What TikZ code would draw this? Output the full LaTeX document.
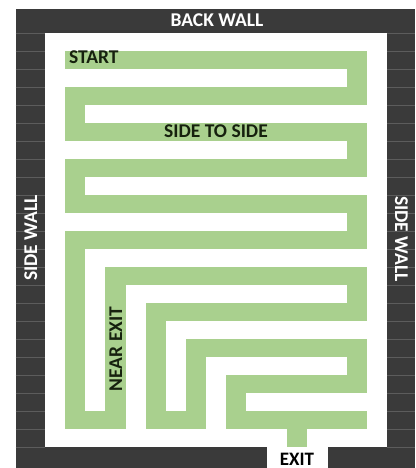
\documentclass[tikz,border=0pt]{standalone}
\usepackage{fontspec}
\setmainfont{Carlito}
\definecolor{wall}{HTML}{3A3A3A}
\definecolor{gridln}{HTML}{5C5C5C}
\definecolor{path}{HTML}{A9D08E}
\definecolor{pathtext}{HTML}{16210E}
\tikzset{
  wallfill/.style={fill=wall,draw=none},
  floor/.style={fill=white,draw=none},
  cellpath/.style={fill=path,draw=none},
  walltext/.style={text=white,font=\bfseries\fontsize{19.5}{19.5}\selectfont,inner sep=0pt},
  pathlabel/.style={text=pathtext,font=\bfseries\fontsize{19.5}{19.5}\selectfont,inner sep=0pt},
  exitlabel/.style={text=black,font=\bfseries\fontsize{19}{19}\selectfont,inner sep=0pt},
  gridline/.style={draw=gridln,line width=0.8pt}
}
\begin{document}
\begin{tikzpicture}[x=1pt,y=-1pt]
\useasboundingbox (0,0) rectangle (415,468);
\fill[white] (0,0) rectangle (415,468);
% walls
\path[wallfill] (15.5,9) rectangle (415,468);
% grid lines on side walls
\foreach \k in {0,...,23}{
  \draw[gridline] (15.5,{33+18*\k}) -- (45,{33+18*\k});
  \draw[gridline] (387,{33+18*\k}) -- (415,{33+18*\k});
}
% floor
\path[floor] (45,33) rectangle (387,447);
\path[floor] (267,446) rectangle (328,468);
% path cells
\begin{scope}[shift={(45,33)},x=20.125pt,y=-18pt]
\foreach \a/\b/\c/\d in {
 1/1/16/2, 15/2/16/3, 1/3/16/4, 1/4/2/5, 1/5/16/6, 15/6/16/7,
 1/7/16/8, 1/8/2/9, 1/9/16/10, 15/10/16/11, 1/11/16/12,
 1/12/2/22, 1/21/4/22, 3/13/4/22, 3/13/16/14, 15/14/16/15,
 5/15/16/16, 5/15/6/22, 5/21/8/22, 7/17/8/22, 7/17/16/18,
 15/18/16/19, 9/19/16/20, 9/19/10/22, 9/21/16/22, 12/22/13/23}
  \path[cellpath] (\a,\b) rectangle (\c,\d);
\end{scope}
% labels
\node[walltext,anchor=base] (back) at (217,27) {BACK WALL};
\node[walltext,anchor=base,rotate=90] (lwall) at (37,238) {SIDE WALL};
\node[walltext,anchor=base,rotate=-90] (rwall) at (395,239) {SIDE WALL};
\node[pathlabel,anchor=base west] (start) at (69,64) {START};
\node[pathlabel,anchor=base] (side) at (216,137) {SIDE TO SIDE};
\node[pathlabel,anchor=base,rotate=90] (near) at (122,349) {NEAR EXIT};
\node[exitlabel,anchor=base] (exit) at (297,465) {EXIT};
\end{tikzpicture}
\end{document}
